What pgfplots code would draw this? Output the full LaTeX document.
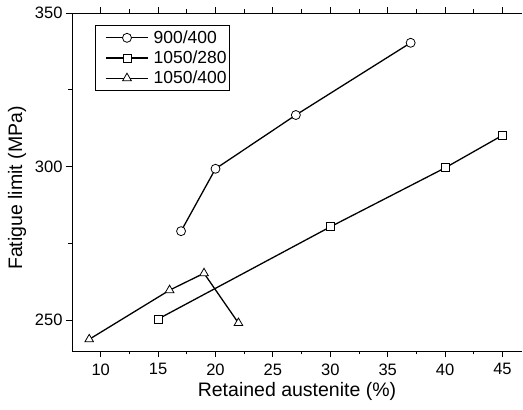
\documentclass[border=0pt]{standalone}
\usepackage{fontspec}
\setmainfont{Liberation Sans}
\usepackage{pgfplots}
\pgfplotsset{compat=1.18}
\begin{document}
\begin{tikzpicture}
\useasboundingbox (-72pt,-59pt) rectangle (451pt,351pt);
\begin{axis}[
  at={(0,0)}, anchor=south west,
  scale only axis, width=450pt, height=338pt,
  xmin=7.5, xmax=46.7, ymin=240, ymax=350,
  axis x line=box, axis y line=left,
  axis line style={-, line width=0.9pt},
  xtick={10,15,...,45}, ytick={250,300,350},
  minor x tick num=1, minor y tick num=1,
  tick align=outside,
  major tick length=6pt, minor tick length=3.5pt,
  every tick/.style={black, line width=0.9pt},
  /pgf/number format/assume math mode=true,
  tick label style={font=\fontsize{16.5}{20}\selectfont},
  xticklabel style={yshift=-3pt},
  label style={font=\fontsize{19.5}{23}\selectfont},
  xlabel={Retained austenite (\%)},
  ylabel={Fatigue limit (MPa)},
  xlabel style={yshift=0pt},
  ylabel style={yshift=2pt, xshift=-6pt},
  legend style={at={(rel axis cs:0.051,0.965)}, anchor=north west,
    font=\fontsize{17.5}{21}\selectfont, draw=black, line width=0.8pt,
    row sep=2pt, inner xsep=1pt, inner ysep=3.5pt},
  legend cell align=left,
  legend image code/.code={\path (-9pt,0pt) (45pt,0pt); \draw[#1, line width=1.3pt, mark options={line width=0.8pt, fill=white, solid}, mark repeat=2, mark phase=2] plot coordinates {(0pt,0pt) (21pt,0pt) (42pt,0pt)};},
  every axis plot/.append style={black, line width=1.3pt, mark options={fill=white, line width=0.8pt, solid}},
]
\addplot[mark=*, mark size=4.5pt] coordinates {(17,279) (20,299.3) (27,316.8) (37,340.3)};
\addlegendentry{900/400}
\addplot[mark=square*, mark size=4pt] coordinates {(15,250.4) (30,280.4) (40,299.6) (45,310.2)};
\addlegendentry{1050/280}
\addplot[mark=triangle*, mark size=5pt] coordinates {(9,243.8) (16,259.8) (19,265.3) (22,249.1)};
\addlegendentry{1050/400}
\end{axis}
\end{tikzpicture}
\end{document}
